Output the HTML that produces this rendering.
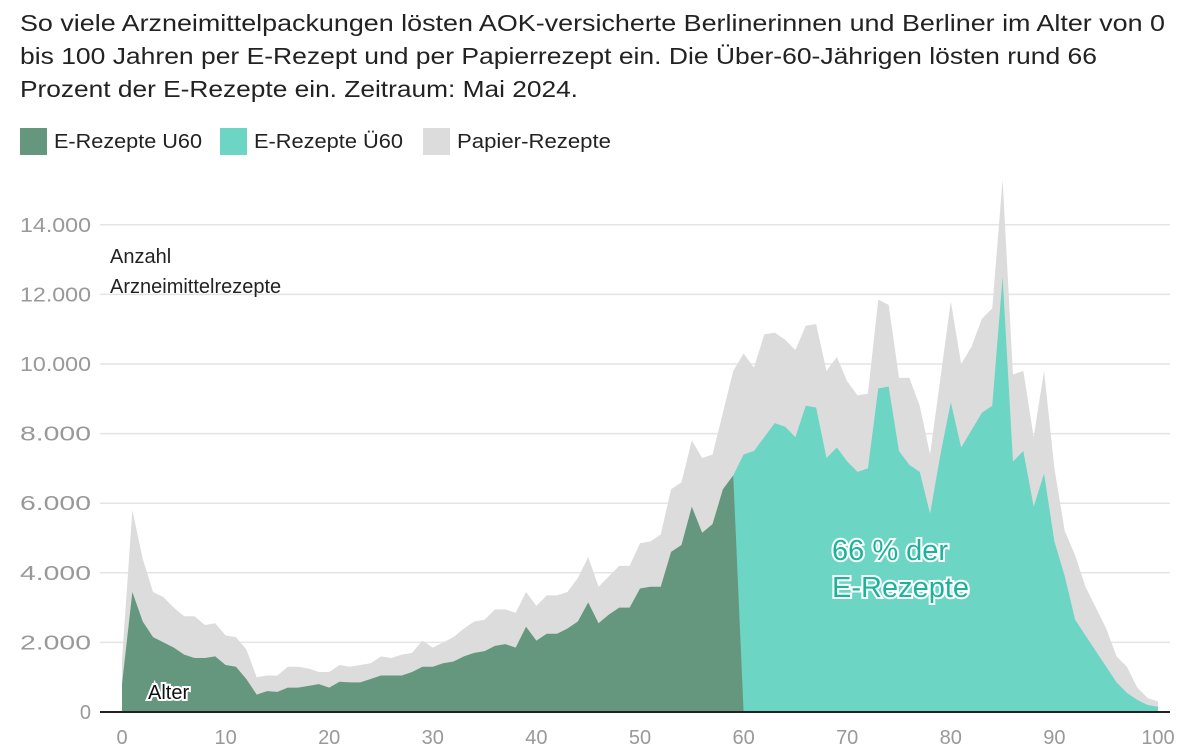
<!DOCTYPE html>
<html><head><meta charset="utf-8"><style>
body{margin:0;background:#fff;width:1200px;height:750px;overflow:hidden;font-family:"Liberation Sans",sans-serif}
</style></head><body>
<svg id="s" width="1200" height="750" xmlns="http://www.w3.org/2000/svg" font-family="Liberation Sans, sans-serif">
<text x="20" y="31" font-size="23" fill="#222" textLength="1145" lengthAdjust="spacingAndGlyphs">So viele Arzneimittelpackungen lösten AOK-versicherte Berlinerinnen und Berliner im Alter von 0</text>
<text x="20" y="64" font-size="23" fill="#222" textLength="1077" lengthAdjust="spacingAndGlyphs">bis 100 Jahren per E-Rezept und per Papierrezept ein. Die Über-60-Jährigen lösten rund 66</text>
<text x="20" y="97" font-size="23" fill="#222" textLength="558" lengthAdjust="spacingAndGlyphs">Prozent der E-Rezepte ein. Zeitraum: Mai 2024.</text>
<rect x="20" y="128" width="27" height="27" fill="#65977f"/>
<text x="54" y="148" font-size="20" fill="#222" textLength="148" lengthAdjust="spacingAndGlyphs">E-Rezepte U60</text>
<rect x="220" y="128" width="27" height="27" fill="#6cd5c4"/>
<text x="254" y="148" font-size="20" fill="#222" textLength="149" lengthAdjust="spacingAndGlyphs">E-Rezepte Ü60</text>
<rect x="423" y="128" width="27" height="27" fill="#dcdcdc"/>
<text x="457" y="148" font-size="20" fill="#222" textLength="154" lengthAdjust="spacingAndGlyphs">Papier-Rezepte</text>
<g id="grid"></g>
<path id="gray" fill="#dcdcdc"/>
<path id="teal" fill="#6cd5c4"/>
<path id="dark" fill="#65977f"/>
<line x1="100" y1="712" x2="1170" y2="712" stroke="#222" stroke-width="2"/>
<g id="ticks" font-size="20" fill="#999"></g>
<text x="110" y="263" font-size="20" fill="#222">Anzahl</text>
<text x="110" y="293" font-size="20" fill="#222">Arzneimittelrezepte</text>
<text x="148" y="699" font-size="20" fill="#111" stroke="#fff" stroke-width="4" paint-order="stroke">Alter</text>
<text x="832" y="560" font-size="29" fill="#1bb39c" stroke="#fff" stroke-width="4" paint-order="stroke">66 % der</text>
<text x="832" y="597" font-size="29" fill="#1bb39c" stroke="#fff" stroke-width="4" paint-order="stroke">E-Rezepte</text>
</svg>
<script>
var tot=[1.5,5.8,4.4,3.45,3.3,3.0,2.75,2.75,2.5,2.55,2.2,2.15,1.8,1.0,1.05,1.05,1.3,1.3,1.25,1.15,1.15,1.35,1.3,1.35,1.4,1.6,1.55,1.65,1.7,2.05,1.85,2.0,2.15,2.4,2.6,2.65,2.95,2.95,2.85,3.45,3.05,3.35,3.35,3.45,3.85,4.45,3.6,3.9,4.2,4.2,4.85,4.9,5.1,6.4,6.6,7.8,7.3,7.4,8.6,9.8,10.3,9.9,10.85,10.9,10.7,10.4,11.1,11.15,9.8,10.2,9.5,9.1,9.15,11.85,11.7,9.6,9.6,8.8,7.4,9.6,11.8,10.0,10.5,11.3,11.6,15.3,9.7,9.8,7.9,9.8,7.0,5.2,4.5,3.6,3.0,2.4,1.6,1.3,0.7,0.4,0.3];
var dk=[0.8,3.45,2.6,2.15,2.0,1.85,1.65,1.55,1.55,1.6,1.35,1.3,0.95,0.5,0.6,0.58,0.7,0.7,0.75,0.8,0.7,0.87,0.85,0.85,0.95,1.05,1.05,1.05,1.15,1.3,1.3,1.4,1.45,1.6,1.7,1.75,1.9,1.95,1.85,2.45,2.05,2.25,2.25,2.4,2.6,3.15,2.55,2.8,3.0,3.0,3.55,3.6,3.6,4.6,4.8,5.9,5.15,5.4,6.4,6.8];
var tl=[6.8,7.4,7.5,7.9,8.3,8.2,7.9,8.8,8.75,7.3,7.6,7.2,6.9,7.0,9.3,9.35,7.5,7.1,6.9,5.7,7.4,8.9,7.6,8.1,8.6,8.8,12.5,7.2,7.5,5.9,6.85,4.9,3.9,2.65,2.2,1.75,1.3,0.85,0.55,0.35,0.2,0.15];
function X(a){return 122+10.36*a}function Y(v){return 712-v*34.8}
var d="M"+X(0)+","+Y(0);tot.forEach(function(v,i){d+="L"+X(i)+","+Y(v)});d+="L"+X(100)+","+Y(0)+"Z";
document.getElementById("gray").setAttribute("d",d);
d="M"+X(0)+","+Y(0);dk.forEach(function(v,i){d+="L"+X(i)+","+Y(v)});d+="L"+X(60)+","+Y(0)+"Z";
document.getElementById("dark").setAttribute("d",d);
d="M"+X(59)+","+Y(0);tl.forEach(function(v,i){d+="L"+X(59+i)+","+Y(v)});d+="L"+X(100)+","+Y(0)+"Z";
document.getElementById("teal").setAttribute("d",d);
var g="",t="";
for(var k=1;k<=7;k++){var y=Y(2*k);g+='<line x1="100" x2="1170" y1="'+y+'" y2="'+y+'" stroke="#e4e4e4" stroke-width="1.5"/>';
t+='<text x="91" y="'+(y+7)+'" text-anchor="end" textLength="71" lengthAdjust="spacingAndGlyphs">'+(2*k)+'.000</text>';}
t+='<text x="91" y="719" text-anchor="end">0</text>';
for(var a=0;a<=100;a+=10)t+='<text x="'+X(a)+'" y="744" text-anchor="middle">'+a+'</text>';
document.getElementById("grid").innerHTML=g;document.getElementById("ticks").innerHTML=t;
</script>
</body></html>
